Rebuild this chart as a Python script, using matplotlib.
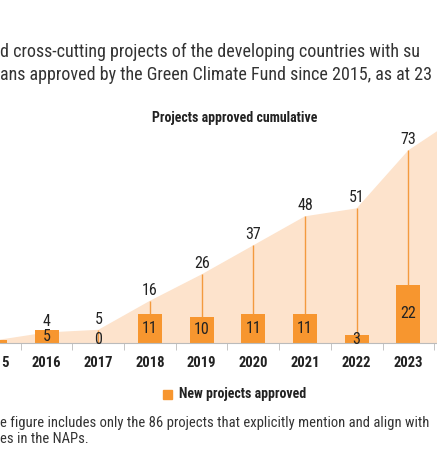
import matplotlib.pyplot as plt
import numpy as np

plt.rcParams['font.family'] = ['Roboto Condensed', 'Roboto', 'DejaVu Sans']

years = [2015, 2016, 2017, 2018, 2019, 2020, 2021, 2022, 2023, 2024]
new_projects = [1, 5, 0, 11, 10, 11, 11, 3, 22, 13]
cumulative = [1, 4, 5, 16, 26, 37, 48, 51, 73, 86]
shown_labels = [False, True, True, True, True, True, True, True, True, False]

W, H = 437, 461
fig = plt.figure(figsize=(W / 100, H / 100), dpi=100)

# axes extend beyond the figure so the chart appears cropped like the reference
px = 51.7
x0 = -5 - 0.5 * px
x1 = 460 + 0.5 * px
y_base = 343
y_top = 343 - 100 * 2.64
ax = fig.add_axes([x0 / W, 1 - y_base / H, (x1 - x0) / W, (y_base - y_top) / H])
ax.set_xlim(2014.5, 2024.5)
ax.set_ylim(0, 100)

area_c = '#fde3cc'
bar_c = '#f7962f'
ax.fill_between(years, cumulative, color=area_c, lw=0, zorder=1)
ax.bar(years, new_projects, width=0.46, color=bar_c, zorder=2)
for y, n, c, s in zip(years, new_projects, cumulative, shown_labels):
    if not s:
        continue
    ax.vlines(y, n, c, color='#f39a3e', lw=1, zorder=3)
    ax.text(y, c + 1.2, str(c), ha='center', va='bottom', fontsize=11.5, color='#222222', zorder=4)
    ax.text(y, n / 2 if n > 2 else 1.2, str(n), ha='center', va='center', fontsize=11.5,
            color='#222222', zorder=4)

for s in ['top', 'right', 'left']:
    ax.spines[s].set_visible(False)
ax.spines['bottom'].set_color('#bbbbbb')
ax.set_yticks([])
ax.set_xticks(years)
ax.set_xticklabels([str(y) for y in years], fontweight='bold', fontsize=10.5, color='#222222')
ax.tick_params(axis='x', length=0, pad=9)
ax.set_xticks(np.arange(2014.5, 2025, 1), minor=True)
ax.tick_params(axis='x', which='minor', length=5, color='#bbbbbb')

fig.text(0.0, 1 - 52 / H, 'd cross-cutting projects of the developing countries with su',
         fontsize=13, color='#333333', va='center', ha='left')
fig.text(0.0, 1 - 75 / H, 'ans approved by the Green Climate Fund since 2015, as at 23',
         fontsize=13, color='#333333', va='center', ha='left')
fig.text(235 / W, 1 - 118 / H, 'Projects approved cumulative', fontsize=10, fontweight='bold',
         color='#222222', ha='center', va='center')

fig.patches.append(plt.Rectangle((163 / W, 1 - 399 / H), 9 / W, 9 / H, color=bar_c,
                                 transform=fig.transFigure, figure=fig))
fig.text(179 / W, 1 - 394 / H, 'New projects approved', fontsize=10, fontweight='bold',
         color='#222222', ha='left', va='center')

fig.text(0.0, 1 - 423 / H, 'e figure includes only the 86 projects that explicitly mention and align with',
         fontsize=10.5, color='#333333', ha='left', va='center')
fig.text(0.0, 1 - 439 / H, 'es in the NAPs.', fontsize=10.5, color='#333333', ha='left', va='center')

fig.savefig('out.png', dpi=100)
